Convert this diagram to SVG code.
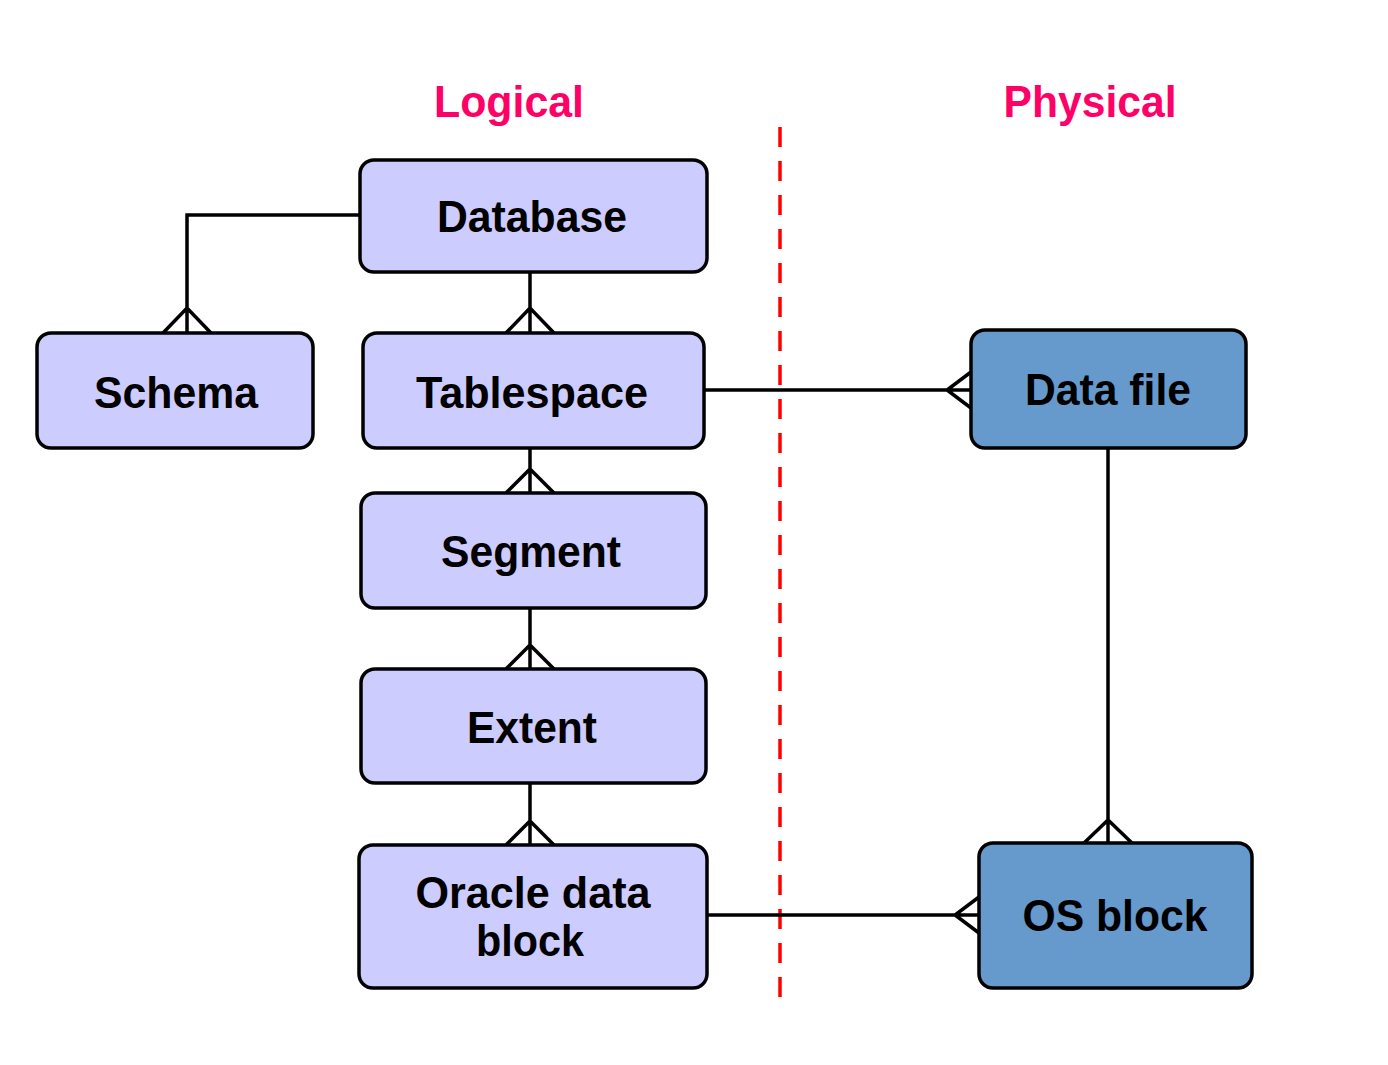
<svg xmlns="http://www.w3.org/2000/svg" width="1388" height="1065" viewBox="0 0 1388 1065">
<style>
.logical{fill:#ccccff;stroke:#000;stroke-width:3.5}
.physical{fill:#6699cc;stroke:#000;stroke-width:3.5}
.lbl{font-family:"Liberation Sans",Arial,sans-serif;font-weight:bold;font-size:44px;fill:#000;text-anchor:middle}
.hdr{font-family:"Liberation Sans",Arial,sans-serif;font-weight:bold;font-size:44px;fill:#ff0066;text-anchor:middle}
.conn{fill:none;stroke:#000;stroke-width:3.5;stroke-linejoin:miter}
.divider{stroke:#ff0000;stroke-width:3.5;stroke-dasharray:20 14}
</style>
<rect width="1388" height="1065" fill="#fff"/>
<text class="hdr" x="509" y="117" textLength="150" lengthAdjust="spacingAndGlyphs">Logical</text>
<text class="hdr" x="1090" y="117" textLength="173" lengthAdjust="spacingAndGlyphs">Physical</text>
<line class="divider" x1="780" y1="127" x2="780" y2="998"/>
<g id="connectors">
<path class="conn" d="M360,215 H187 V333 M163,333 L187,308 L211,333"/>
<path class="conn" d="M530,272 V333 M506,333 L530,308 L554,333"/>
<path class="conn" d="M530,448 V493 M506,493 L530,469 L554,493"/>
<path class="conn" d="M530,608 V669 M506,669 L530,645 L554,669"/>
<path class="conn" d="M530,783 V845 M506,845 L530,821 L554,845"/>
<path class="conn" d="M704,390 H971 M971,372 L947,390 L971,408"/>
<path class="conn" d="M707,915 H979 M979,897 L955,915 L979,933"/>
<path class="conn" d="M1108,448 V843 M1084,843 L1108,820 L1132,843"/>
</g>
<g id="database"><rect class="logical" x="360" y="160" width="347" height="112" rx="14"/><text class="lbl" x="532" y="232" textLength="190" lengthAdjust="spacingAndGlyphs">Database</text></g>
<g id="schema"><rect class="logical" x="37" y="333" width="276" height="115" rx="14"/><text class="lbl" x="176" y="408" textLength="164" lengthAdjust="spacingAndGlyphs">Schema</text></g>
<g id="tablespace"><rect class="logical" x="363" y="333" width="341" height="115" rx="14"/><text class="lbl" x="532" y="408" textLength="232" lengthAdjust="spacingAndGlyphs">Tablespace</text></g>
<g id="segment"><rect class="logical" x="361" y="493" width="345" height="115" rx="14"/><text class="lbl" x="531" y="567" textLength="180" lengthAdjust="spacingAndGlyphs">Segment</text></g>
<g id="extent"><rect class="logical" x="361" y="669" width="345" height="114" rx="14"/><text class="lbl" x="532" y="743" textLength="130" lengthAdjust="spacingAndGlyphs">Extent</text></g>
<g id="oracle-data-block"><rect class="logical" x="359" y="845" width="348" height="143" rx="14"/><text class="lbl" x="533" y="908" textLength="235" lengthAdjust="spacingAndGlyphs">Oracle data</text><text class="lbl" x="530" y="956" textLength="108" lengthAdjust="spacingAndGlyphs">block</text></g>
<g id="data-file"><rect class="physical" x="971" y="330" width="275" height="118" rx="14"/><text class="lbl" x="1108" y="405" textLength="166" lengthAdjust="spacingAndGlyphs">Data file</text></g>
<g id="os-block"><rect class="physical" x="979" y="843" width="273" height="145" rx="14"/><text class="lbl" x="1115" y="931" textLength="185" lengthAdjust="spacingAndGlyphs">OS block</text></g>
</svg>
